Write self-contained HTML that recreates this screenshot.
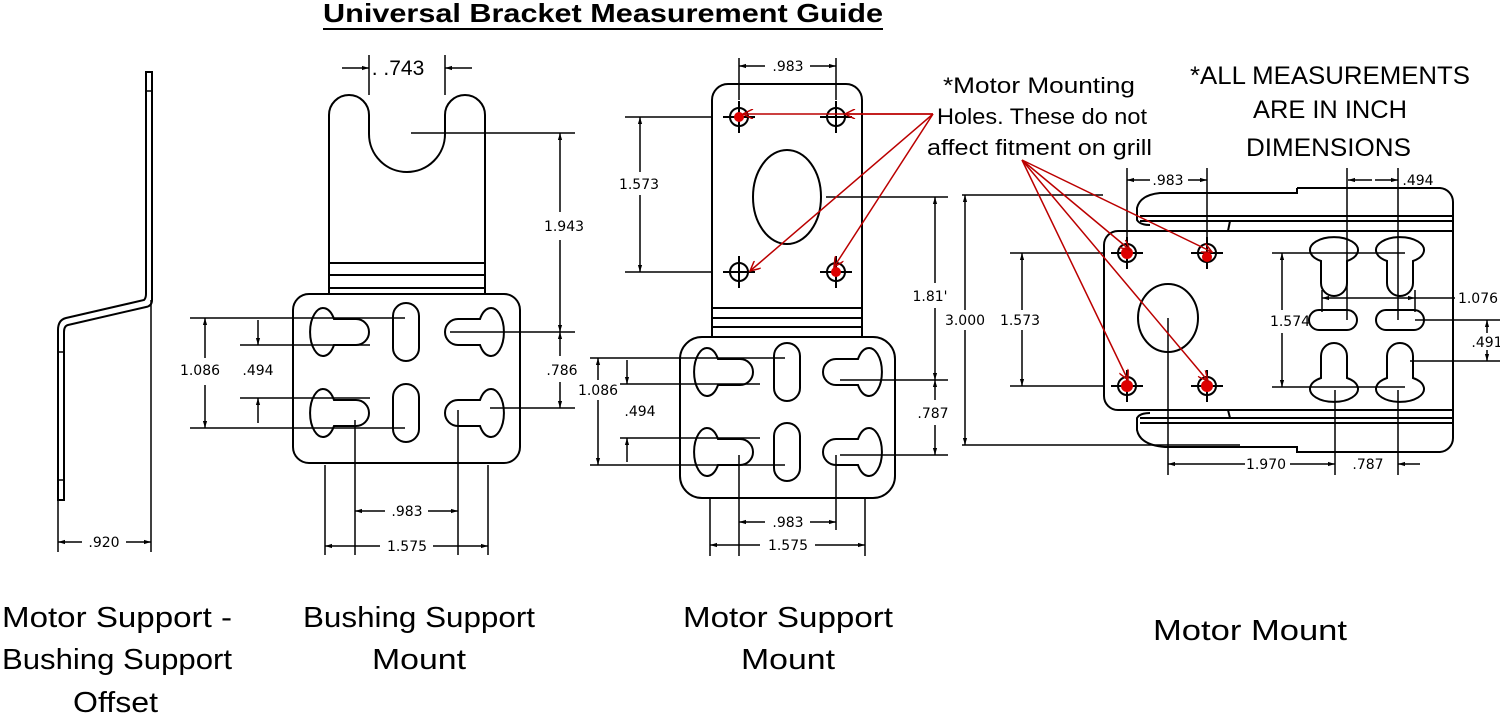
<!DOCTYPE html>
<html><head><meta charset="utf-8"><style>
html,body{margin:0;padding:0;background:#fff;width:1500px;height:716px;overflow:hidden}
svg{display:block}
.d{font-family:"DejaVu Sans","Liberation Sans",sans-serif;font-size:14px;fill:#000}
.L{font-family:"Liberation Sans",sans-serif;fill:#000}
</style></head><body>
<svg width="1500" height="716" viewBox="0 0 1500 716" xmlns="http://www.w3.org/2000/svg">
<defs>
<marker id="a" viewBox="0 0 10 10" refX="10" refY="5" markerWidth="9" markerHeight="7" orient="auto-start-reverse" markerUnits="userSpaceOnUse"><path d="M0,2 L10,5 L0,8 Z" fill="#000"/></marker>
<marker id="r" viewBox="0 0 10 10" refX="10" refY="5" markerWidth="14" markerHeight="10" orient="auto" markerUnits="userSpaceOnUse"><path d="M0,0 L10,5 L0,10" fill="none" stroke="#b00" stroke-width="1.5"/></marker>
<path id="kh" d="M8,-13 L30,-13 A13,13 0 0 1 30,13 L8,13 A13,24 0 1 1 8,-13 Z" fill="#fff" stroke="#000" stroke-width="2"/>
<rect id="sl" x="-13" y="-29" width="26" height="58" rx="13" fill="#fff" stroke="#000" stroke-width="2"/>
<rect id="hs" x="-24" y="-10" width="48" height="20" rx="10" fill="#fff" stroke="#000" stroke-width="2"/>
<g id="hole"><circle r="9" fill="none" stroke="#000" stroke-width="2"/><path d="M-16,0H16M0,-16V16" stroke="#000" stroke-width="2"/></g>
</defs>

<!-- title -->
<text x="323" y="22" textLength="560" lengthAdjust="spacingAndGlyphs" class="L" font-size="26" font-weight="bold">Universal Bracket Measurement Guide</text>
<line x1="323" y1="29" x2="883" y2="29" stroke="#000" stroke-width="2"/>

<g fill="none" stroke="#000" stroke-width="2">
<path d="M146,72 H152 V300 Q152,306 146,307 L68,325 Q64,326 64,332 V500 H58 V330 Q58,320 66,318 L144,300 Q146,298 146,294 Z"/>
<path d="M146,91H152M58,352H64M58,480H64" stroke-width="1.5"/>
<path d="M58,500V552M151,300V552" stroke-width="1.5"/>
</g>
<line x1="58" y1="542" x2="82" y2="542" stroke="#000" stroke-width="1.5" marker-start="url(#a)"/>
<line x1="126" y1="542" x2="151" y2="542" stroke="#000" stroke-width="1.5" marker-end="url(#a)"/>
<text x="104" y="547" class="d" text-anchor="middle">.920</text>

<!-- Bushing support mount -->
<g fill="none" stroke="#000" stroke-width="2">
<path d="M329,294 L329,115 A20,20 0 0 1 369,115 L369,134 A38,38 0 0 0 445,134 L445,115 A20,20 0 0 1 485,115 L485,294"/>
<path d="M329,263H485M329,275H485M329,288H485"/>
<rect x="293" y="294" width="227" height="169" rx="16" fill="#fff"/>
<path d="M369,55V95M445,55V95" stroke-width="1.5"/>
</g>
<use href="#kh" transform="translate(326,332)"/>
<use href="#kh" transform="translate(326,413)"/>
<use href="#kh" transform="translate(488,332) scale(-1,1)"/>
<use href="#kh" transform="translate(488,413) scale(-1,1)"/>
<use href="#sl" transform="translate(406,332)"/>
<use href="#sl" transform="translate(406,413)"/>
<g stroke="#000" stroke-width="1.5" fill="none">
<path d="M411,133H575M450,332H575M190,318H405M190,428H405M240,345H370M240,398H370M490,408H575"/>
<path d="M355,420V555M458,410V555M325,465V555M488,465V555"/>
</g>
<line x1="342" y1="68" x2="369" y2="68" stroke="#000" stroke-width="1.5" marker-end="url(#a)"/>
<line x1="472" y1="68" x2="445" y2="68" stroke="#000" stroke-width="1.5" marker-end="url(#a)"/>
<text x="398" y="75" class="L" font-size="21" text-anchor="middle">. .743</text>
<line x1="560" y1="133" x2="560" y2="212" stroke="#000" stroke-width="1.5" marker-start="url(#a)"/>
<line x1="560" y1="240" x2="560" y2="332" stroke="#000" stroke-width="1.5" marker-end="url(#a)"/>
<text x="564" y="231" class="d" text-anchor="middle">1.943</text>
<line x1="560" y1="332" x2="560" y2="356" stroke="#000" stroke-width="1.5" marker-start="url(#a)"/>
<line x1="560" y1="382" x2="560" y2="408" stroke="#000" stroke-width="1.5" marker-end="url(#a)"/>
<text x="562" y="375" class="d" text-anchor="middle">.786</text>
<line x1="205" y1="318" x2="205" y2="358" stroke="#000" stroke-width="1.5" marker-start="url(#a)"/>
<line x1="205" y1="385" x2="205" y2="428" stroke="#000" stroke-width="1.5" marker-end="url(#a)"/>
<text x="200" y="375" class="d" text-anchor="middle">1.086</text>
<line x1="258" y1="320" x2="258" y2="345" stroke="#000" stroke-width="1.5" marker-end="url(#a)"/>
<line x1="258" y1="423" x2="258" y2="398" stroke="#000" stroke-width="1.5" marker-end="url(#a)"/>
<text x="258" y="375" class="d" text-anchor="middle">.494</text>
<line x1="355" y1="511" x2="385" y2="511" stroke="#000" stroke-width="1.5" marker-start="url(#a)"/>
<line x1="428" y1="511" x2="458" y2="511" stroke="#000" stroke-width="1.5" marker-end="url(#a)"/>
<text x="407" y="516" class="d" text-anchor="middle">.983</text>
<line x1="325" y1="546" x2="380" y2="546" stroke="#000" stroke-width="1.5" marker-start="url(#a)"/>
<line x1="433" y1="546" x2="488" y2="546" stroke="#000" stroke-width="1.5" marker-end="url(#a)"/>
<text x="407" y="551" class="d" text-anchor="middle">1.575</text>

<!-- Motor support mount -->
<g fill="none" stroke="#000" stroke-width="2">
<path d="M712,337 V100 A16,16 0 0 1 728,84 H846 A16,16 0 0 1 862,100 V337"/>
<path d="M712,308H862M712,318H862M712,327H862"/>
<ellipse cx="787" cy="197" rx="34" ry="47"/>
<rect x="680" y="337" width="215" height="161" rx="22" fill="#fff"/>
</g>
<use href="#hole" transform="translate(739,117)"/>
<use href="#hole" transform="translate(836,117)"/>
<use href="#hole" transform="translate(739,272)"/>
<use href="#hole" transform="translate(836,272)"/>
<use href="#kh" transform="translate(710,372)"/>
<use href="#kh" transform="translate(710,452)"/>
<use href="#kh" transform="translate(866,372) scale(-1,1)"/>
<use href="#kh" transform="translate(866,452) scale(-1,1)"/>
<use href="#sl" transform="translate(787,372)"/>
<use href="#sl" transform="translate(787,452)"/>
<g stroke="#000" stroke-width="1.5" fill="none">
<path d="M739,58V100M836,58V100M625,117H712M625,272H712M826,197H948M840,380H948M840,455H948M590,358H785M590,465H785M620,384H760M620,438H760"/>
<path d="M739,455V556M836,455V530M710,498V556M865,498V556"/>
</g>
<line x1="739" y1="66" x2="765" y2="66" stroke="#000" stroke-width="1.5" marker-start="url(#a)"/>
<line x1="810" y1="66" x2="836" y2="66" stroke="#000" stroke-width="1.5" marker-end="url(#a)"/>
<text x="788" y="71" class="d" text-anchor="middle">.983</text>
<line x1="640" y1="117" x2="640" y2="172" stroke="#000" stroke-width="1.5" marker-start="url(#a)"/>
<line x1="640" y1="195" x2="640" y2="272" stroke="#000" stroke-width="1.5" marker-end="url(#a)"/>
<text x="639" y="189" class="d" text-anchor="middle">1.573</text>
<line x1="935" y1="197" x2="935" y2="283" stroke="#000" stroke-width="1.5" marker-start="url(#a)"/>
<line x1="935" y1="308" x2="935" y2="380" stroke="#000" stroke-width="1.5" marker-end="url(#a)"/>
<text x="930" y="301" class="d" text-anchor="middle">1.81'</text>
<line x1="935" y1="380" x2="935" y2="400" stroke="#000" stroke-width="1.5" marker-start="url(#a)"/>
<line x1="935" y1="425" x2="935" y2="455" stroke="#000" stroke-width="1.5" marker-end="url(#a)"/>
<text x="933" y="418" class="d" text-anchor="middle">.787</text>
<line x1="598" y1="358" x2="598" y2="380" stroke="#000" stroke-width="1.5" marker-start="url(#a)"/>
<line x1="598" y1="400" x2="598" y2="465" stroke="#000" stroke-width="1.5" marker-end="url(#a)"/>
<text x="598" y="395" class="d" text-anchor="middle">1.086</text>
<line x1="627" y1="360" x2="627" y2="384" stroke="#000" stroke-width="1.5" marker-end="url(#a)"/>
<line x1="627" y1="462" x2="627" y2="438" stroke="#000" stroke-width="1.5" marker-end="url(#a)"/>
<text x="640" y="416" class="d" text-anchor="middle">.494</text>
<line x1="739" y1="522" x2="765" y2="522" stroke="#000" stroke-width="1.5" marker-start="url(#a)"/>
<line x1="810" y1="522" x2="836" y2="522" stroke="#000" stroke-width="1.5" marker-end="url(#a)"/>
<text x="788" y="527" class="d" text-anchor="middle">.983</text>
<line x1="710" y1="545" x2="760" y2="545" stroke="#000" stroke-width="1.5" marker-start="url(#a)"/>
<line x1="815" y1="545" x2="865" y2="545" stroke="#000" stroke-width="1.5" marker-end="url(#a)"/>
<text x="788" y="550" class="d" text-anchor="middle">1.575</text>

<!-- Motor mount -->
<g fill="none" stroke="#000" stroke-width="2">
<path d="M1297,188 H1440 A14,14 0 0 1 1453,202 V438 A14,14 0 0 1 1440,452 H1297 V447 H1165 Q1140,445 1137,430 V418 Q1140,413 1150,413"/>
<path d="M1297,188 V193 H1160 Q1140,195 1137,208 V220 Q1140,225 1150,225"/>
<path d="M1140,216H1453M1140,221H1453M1140,418H1453M1140,423H1453"/>
<path d="M1230,221 L1228,231 M1230,418 L1228,410"/>
<path d="M1118,231 H1453 M1118,410 H1453"/>
<path d="M1118,231 A14,14 0 0 0 1104,245 V396 A14,14 0 0 0 1118,410"/>
<ellipse cx="1168" cy="318" rx="30" ry="34"/>
</g>
<use href="#hole" transform="translate(1127,253)"/>
<use href="#hole" transform="translate(1207,253)"/>
<use href="#hole" transform="translate(1127,386)"/>
<use href="#hole" transform="translate(1207,386)"/>
<circle cx="1127" cy="253" r="6" fill="#d00"/>
<circle cx="1207" cy="257" r="5" fill="#d00"/>
<circle cx="1127" cy="386" r="6" fill="#d00"/>
<circle cx="1207" cy="386" r="6" fill="#d00"/>
<circle cx="739" cy="117" r="5" fill="#d00"/>
<circle cx="836" cy="272" r="5" fill="#d00"/>
<use href="#kh" transform="translate(1334,253) rotate(90)"/>
<use href="#kh" transform="translate(1400,253) rotate(90)"/>
<use href="#kh" transform="translate(1334,386) rotate(-90)"/>
<use href="#kh" transform="translate(1400,386) rotate(-90)"/>
<use href="#hs" transform="translate(1333,320)"/>
<use href="#hs" transform="translate(1400,320)"/>
<g stroke="#000" stroke-width="1.5" fill="none">
<path d="M962,195H1103M962,445H1240M1010,253H1105M1010,386H1105M1272,253H1405M1272,387H1405M1415,320H1500M1410,361H1500"/>
<path d="M1127,168V240M1207,168V240M1347,168V320M1398,168V320M1322,290V312M1415,290V312M1168,318V475M1335,390V475M1398,390V475"/>
</g>
<line x1="965" y1="195" x2="965" y2="310" stroke="#000" stroke-width="1.5" marker-start="url(#a)"/>
<line x1="965" y1="330" x2="965" y2="445" stroke="#000" stroke-width="1.5" marker-end="url(#a)"/>
<text x="965" y="325" class="d" font-size="12" text-anchor="middle">3.000</text>
<line x1="1022" y1="253" x2="1022" y2="310" stroke="#000" stroke-width="1.5" marker-start="url(#a)"/>
<line x1="1022" y1="330" x2="1022" y2="386" stroke="#000" stroke-width="1.5" marker-end="url(#a)"/>
<text x="1020" y="325" class="d" font-size="13" text-anchor="middle">1.573</text>
<line x1="1127" y1="180" x2="1150" y2="180" stroke="#000" stroke-width="1.5" marker-start="url(#a)"/>
<line x1="1188" y1="180" x2="1207" y2="180" stroke="#000" stroke-width="1.5" marker-end="url(#a)"/>
<text x="1168" y="185" class="d" font-size="13" text-anchor="middle">.983</text>
<line x1="1348" y1="180" x2="1372" y2="180" stroke="#000" stroke-width="1.5" marker-start="url(#a)"/>
<line x1="1375" y1="180" x2="1398" y2="180" stroke="#000" stroke-width="1.5" marker-end="url(#a)"/>
<text x="1418" y="185" class="d" font-size="13" text-anchor="middle">.494</text>
<line x1="1322" y1="298" x2="1415" y2="298" stroke="#000" stroke-width="1.5" marker-start="url(#a)" marker-end="url(#a)"/>
<line x1="1415" y1="298" x2="1455" y2="298" stroke="#000" stroke-width="1.5"/>
<text x="1478" y="303" class="d" font-size="13" text-anchor="middle">1.076</text>
<line x1="1282" y1="253" x2="1282" y2="310" stroke="#000" stroke-width="1.5" marker-start="url(#a)"/>
<line x1="1282" y1="333" x2="1282" y2="387" stroke="#000" stroke-width="1.5" marker-end="url(#a)"/>
<text x="1290" y="326" class="d" font-size="13" text-anchor="middle">1.574</text>
<line x1="1487" y1="320" x2="1487" y2="333" stroke="#000" stroke-width="1.5" marker-start="url(#a)"/>
<line x1="1487" y1="350" x2="1487" y2="361" stroke="#000" stroke-width="1.5" marker-end="url(#a)"/>
<text x="1487" y="347" class="d" font-size="13" text-anchor="middle">.491</text>
<line x1="1168" y1="464" x2="1245" y2="464" stroke="#000" stroke-width="1.5" marker-start="url(#a)"/>
<line x1="1290" y1="464" x2="1335" y2="464" stroke="#000" stroke-width="1.5" marker-end="url(#a)"/>
<text x="1266" y="469" class="d" font-size="13" text-anchor="middle">1.970</text>
<text x="1368" y="469" class="d" font-size="13" text-anchor="middle">.787</text>
<line x1="1420" y1="464" x2="1398" y2="464" stroke="#000" stroke-width="1.5" marker-end="url(#a)"/>

<!-- red arrows -->
<g stroke="#b00" stroke-width="1.5" fill="none">
<line x1="933" y1="114" x2="743" y2="114" marker-end="url(#r)"/>
<line x1="933" y1="114" x2="845" y2="114" marker-end="url(#r)"/>
<line x1="933" y1="114" x2="750" y2="271" marker-end="url(#r)"/>
<line x1="933" y1="114" x2="834" y2="267" marker-end="url(#r)"/>
<line x1="1022" y1="160" x2="1130" y2="250" marker-end="url(#r)"/>
<line x1="1022" y1="160" x2="1212" y2="252" marker-end="url(#r)"/>
<line x1="1022" y1="160" x2="1128" y2="380" marker-end="url(#r)"/>
<line x1="1022" y1="160" x2="1208" y2="381" marker-end="url(#r)"/>
</g>

<!-- notes -->
<g class="L" font-size="22">
<text x="943" y="93" textLength="192" lengthAdjust="spacingAndGlyphs">*Motor Mounting</text>
<text x="937" y="124" textLength="210" lengthAdjust="spacingAndGlyphs">Holes. These do not</text>
<text x="927" y="155" textLength="225" lengthAdjust="spacingAndGlyphs">affect fitment on grill</text>
</g>
<g class="L" font-size="25">
<text x="1190" y="84" textLength="280" lengthAdjust="spacingAndGlyphs">*ALL MEASUREMENTS</text>
<text x="1253" y="118" textLength="154" lengthAdjust="spacingAndGlyphs">ARE IN INCH</text>
<text x="1246" y="156" textLength="165" lengthAdjust="spacingAndGlyphs">DIMENSIONS</text>
</g>

<!-- bottom labels -->
<g class="L" font-size="29">
<text x="2" y="627" textLength="230" lengthAdjust="spacingAndGlyphs">Motor Support -</text>
<text x="2" y="669" textLength="230" lengthAdjust="spacingAndGlyphs">Bushing Support</text>
<text x="73" y="712" textLength="85" lengthAdjust="spacingAndGlyphs">Offset</text>
<text x="303" y="627" textLength="232" lengthAdjust="spacingAndGlyphs">Bushing Support</text>
<text x="372" y="669" textLength="94" lengthAdjust="spacingAndGlyphs">Mount</text>
<text x="683" y="627" textLength="210" lengthAdjust="spacingAndGlyphs">Motor Support</text>
<text x="741" y="669" textLength="94" lengthAdjust="spacingAndGlyphs">Mount</text>
<text x="1153" y="640" textLength="194" lengthAdjust="spacingAndGlyphs">Motor Mount</text>
</g>
</svg>
</body></html>
